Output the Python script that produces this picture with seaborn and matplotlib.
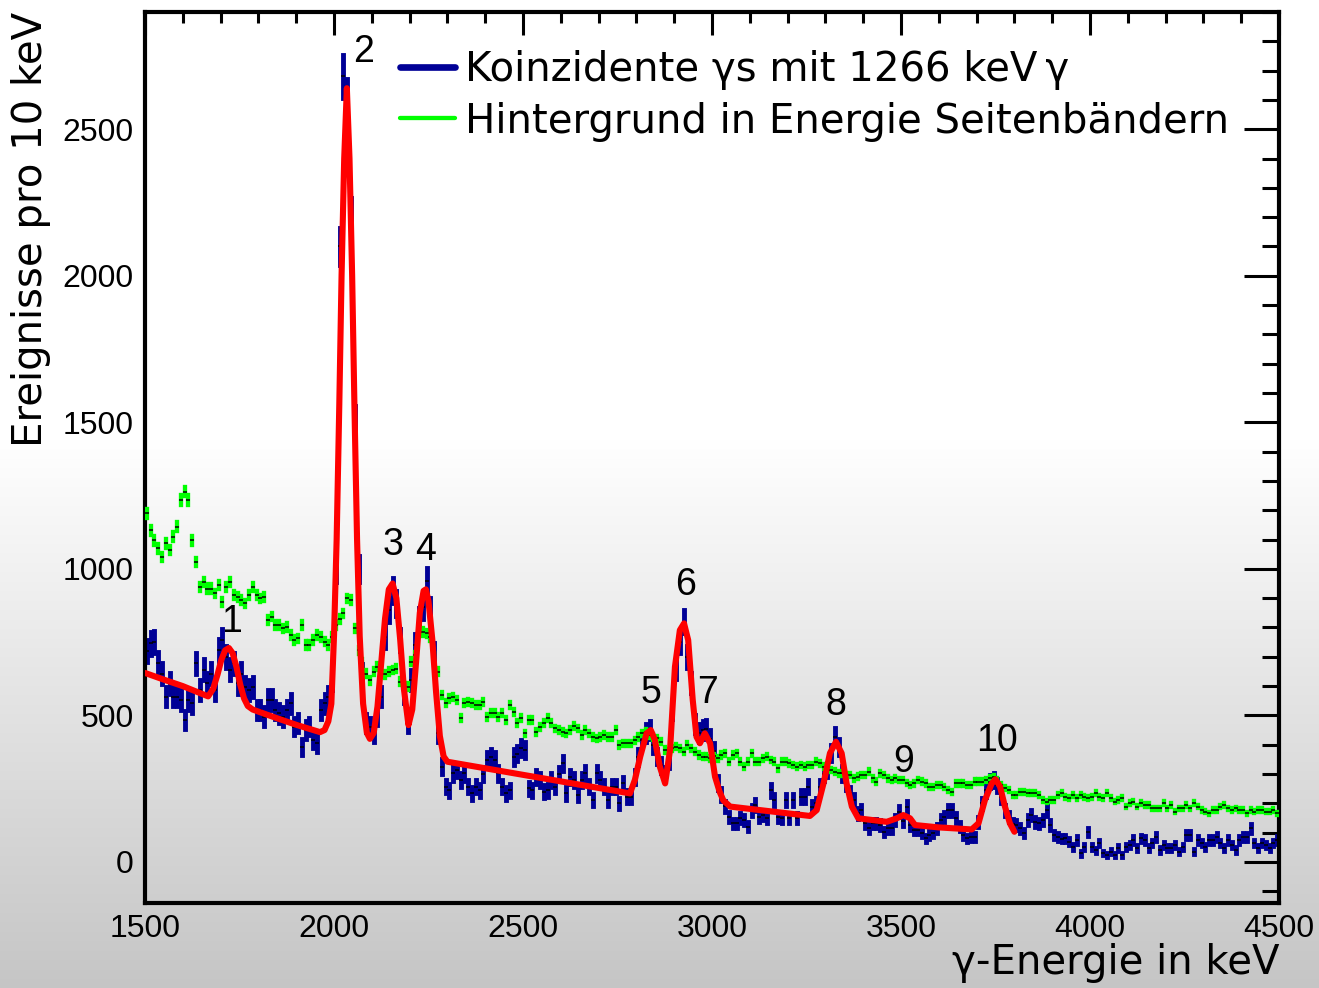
import numpy as np
import pandas as pd
import matplotlib
matplotlib.use("Agg")
import matplotlib.pyplot as plt
import seaborn as sns
from matplotlib.lines import Line2D
from matplotlib.ticker import MultipleLocator

# ---------------- data ----------------
bin_start = 1500
bin_width = 10

# coincident spectrum (counts per 10 keV), bins 1500..4490
blue_counts = [
    720, 746, 751, 680, 643, 564, 609, 564, 564, 553,   # 1500
    484, 553, 541, 678, 587, 655, 609, 643, 587, 723,   # 1600
    757, 700, 655, 678, 609, 643, 598, 587, 598, 518,   # 1700
    518, 496, 553, 553, 518, 507, 496, 518, 541, 462,   # 1800
    473, 393, 450, 462, 416, 405, 518, 541, 564, 620,   # 1900
    1000, 2100, 2680, 2600, 2200, 1500, 1000, 640, 475, 460,  # 2000
    440, 500, 564, 768, 860, 927, 882, 757, 575, 473,   # 2100
    620, 740, 825, 871, 960, 859, 711, 439, 325, 257,   # 2200
    245, 302, 313, 279, 302, 257, 234, 257, 245, 300,   # 2300
    348, 359, 348, 302, 257, 234, 245, 359, 370, 390,   # 2400
    382, 251, 245, 291, 280, 240, 245, 280, 257, 300,   # 2500
    336, 234, 291, 280, 228, 280, 302, 257, 211, 302,   # 2600
    280, 257, 211, 257, 257, 200, 268, 223, 223, 291,   # 2700
    359, 416, 440, 450, 400, 360, 330, 300, 345, 518,   # 2800
    660, 750, 820, 700, 610, 470, 440, 450, 455, 420,   # 2900
    380, 270, 230, 190, 154, 132, 132, 149, 143, 120,   # 3000
    177, 194, 154, 160, 149, 245, 211, 154, 149, 211,   # 3100
    149, 211, 149, 223, 223, 257, 189, 200, 257, 300,   # 3200
    314, 371, 427, 393, 302, 268, 234, 211, 166, 177,   # 3300
    132, 115, 132, 132, 126, 103, 115, 115, 143, 171,   # 3400
    140, 189, 126, 109, 109, 98, 81, 92, 100, 115,      # 3500
    143, 154, 177, 177, 149, 120, 92, 81, 86, 86,       # 3600
    137, 200, 245, 274, 280, 262, 223, 177, 154, 130,   # 3700
    126, 115, 98, 143, 160, 137, 132, 143, 177, 126,    # 3800
    92, 86, 80, 81, 69, 52, 75, 29, 52, 103,            # 3900
    52, 40, 64, 30, 24, 35, 24, 47, 24, 52,             # 4000
    58, 75, 47, 81, 75, 47, 64, 86, 41, 58,             # 4100
    47, 47, 58, 35, 52, 92, 92, 35, 75, 64,             # 4200
    52, 75, 75, 86, 64, 47, 75, 58, 41, 75,             # 4300
    86, 86, 115, 64, 47, 64, 58, 47, 64, 75,            # 4400
]

# background from energy side bands, bins 1500..4490
green_counts = [
    1189, 1132, 1098, 1070, 1041, 1087, 1064, 1110, 1144, 1235,  # 1500
    1263, 1235, 1098, 1024, 939, 956, 933, 933, 916, 945,        # 1600
    888, 939, 956, 911, 905, 894, 882, 911, 939, 911,            # 1700
    899, 905, 825, 837, 808, 808, 797, 802, 774, 757,            # 1800
    763, 808, 740, 740, 757, 774, 768, 751, 740, 768,            # 1900
    808, 830, 848, 899, 893, 797, 723, 680, 643, 620,            # 2000
    649, 666, 643, 640, 649, 655, 660, 615, 598, 598,            # 2100
    683, 706, 791, 785, 780, 768, 700, 649, 569, 541,            # 2200
    558, 564, 552, 490, 541, 547, 541, 535, 535, 547,            # 2300
    495, 507, 507, 495, 507, 484, 535, 512, 473, 490,            # 2400
    439, 484, 484, 444, 461, 473, 490, 473, 456, 450,            # 2500
    444, 439, 450, 464, 456, 433, 450, 439, 427, 422,            # 2600
    427, 433, 427, 427, 450, 399, 405, 405, 405, 415,            # 2700
    427, 439, 444, 433, 427, 422, 410, 382, 376, 388,            # 2800
    393, 388, 376, 399, 388, 376, 365, 359, 359, 354,            # 2900
    360, 354, 365, 371, 342, 365, 371, 342, 325, 342,            # 3000
    371, 342, 342, 354, 359, 348, 342, 319, 342, 342,            # 3100
    336, 331, 325, 331, 325, 331, 331, 342, 336, 325,            # 3200
    325, 314, 308, 302, 302, 297, 297, 285, 291, 297,            # 3300
    297, 308, 285, 274, 302, 297, 285, 280, 285, 280,            # 3400
    280, 270, 262, 268, 280, 274, 268, 257, 257, 262,            # 3500
    262, 257, 245, 240, 268, 268, 268, 262, 262, 274,            # 3600
    274, 274, 280, 285, 289, 280, 262, 251, 245, 228,            # 3700
    228, 240, 240, 234, 234, 234, 228, 211, 206, 211,            # 3800
    211, 228, 234, 223, 217, 228, 217, 228, 223, 217,            # 3900
    223, 234, 223, 217, 234, 217, 206, 211, 217, 189,            # 4000
    200, 206, 189, 200, 194, 194, 183, 183, 183, 200,            # 4100
    183, 194, 172, 183, 183, 194, 183, 200, 189, 177,            # 4200
    172, 166, 177, 177, 189, 194, 183, 177, 183, 177,            # 4300
    177, 166, 177, 172, 177, 177, 172, 172, 177, 166,            # 4400
]

# fitted curve, sampled (keV, counts)
fit_energy = [
    1500, 1550, 1600, 1667, 1680, 1692, 1702, 1712, 1722, 1732, 1742, 1752,
    1762, 1772, 1785, 1850, 1900, 1963, 1975, 1985, 1993, 2000, 2007, 2014,
    2020, 2027, 2034, 2041, 2048, 2054, 2061, 2068, 2077, 2087, 2095, 2105,
    2115, 2125, 2135, 2145, 2155, 2165, 2175, 2185, 2197, 2207, 2217, 2227,
    2237, 2243, 2250, 2260, 2270, 2280, 2290, 2300, 2783, 2796, 2810, 2827,
    2838, 2849, 2862, 2876, 2889, 2902, 2915, 2926, 2937, 2949, 2959, 2968,
    2981, 2995, 3008, 3020, 3030, 3048, 3127, 3259, 3277, 3295, 3312, 3328,
    3343, 3356, 3370, 3387, 3462, 3489, 3506, 3524, 3537, 3599, 3687, 3705,
    3722, 3740, 3750, 3762, 3775, 3788, 3800,
]
fit_counts = [
    645, 622, 600, 565, 590, 640, 690, 722, 730, 712, 665, 605,
    558, 532, 520, 490, 468, 443, 450, 480, 540, 770, 1100, 1560,
    2000, 2400, 2640, 2400, 2000, 1560, 1100, 770, 540, 440, 420, 440,
    530, 680, 830, 930, 950, 900, 760, 590, 467, 520, 680, 850,
    925, 930, 890, 760, 580, 430, 360, 342, 234, 280, 359, 439,
    450, 416, 325, 268, 382, 666, 791, 814, 757, 553, 427, 405,
    439, 405, 291, 240, 210, 189, 177, 157, 177, 268, 371, 410,
    371, 268, 189, 149, 137, 149, 160, 149, 126, 118, 111, 132,
    211, 268, 282, 257, 189, 132, 103,
]

peak_names = ["1", "2", "3", "4", "5", "6", "7", "8", "9", "10"]
peak_label_energy = [1730, 2079, 2156, 2241, 2839, 2929, 2989, 3328, 3508, 3754]
peak_label_counts = [818, 2763, 1081, 1064, 576, 945, 576, 535, 341, 413]

series_labels = ["Koinzidente \u03b3s mit 1266 keV\u2009\u03b3",
                 "Hintergrund in Energie Seitenb\u00e4ndern"]
x_ticks = [1500, 2000, 2500, 3000, 3500, 4000, 4500]
x_tick_labels = ["1500", "2000", "2500", "3000", "3500", "4000", "4500"]
y_ticks = [0, 500, 1000, 1500, 2000, 2500]
y_tick_labels = ["0", "500", "1000", "1500", "2000", "2500"]
x_title = "\u03b3-Energie in keV"
y_title = "Ereignisse pro 10 keV"

# ---------------- styling ----------------
BLUE = "#000096"
GREEN = "#00ff00"
RED = "#ff0000"

sns.set_theme(style="white")
plt.rcParams["font.family"] = ["DejaVu Sans"]
plt.rcParams["text.color"] = "black"
plt.rcParams["axes.labelcolor"] = "black"
plt.rcParams["xtick.color"] = "black"
plt.rcParams["ytick.color"] = "black"

W, H = 1319, 988
fig = plt.figure(figsize=(W / 100, H / 100), dpi=100)

# gradient page background
bg = fig.add_axes([0, 0, 1, 1], zorder=-10)
rows = np.arange(H)
t = np.clip((rows - 440) / (H - 440), 0, 1)
g = 1 - t * (58 / 255)
img = np.dstack([g, g, g]).reshape(H, 1, 3)
bg.imshow(img, aspect="auto", extent=[0, 1, 0, 1], interpolation="bilinear")
bg.axis("off")

ax = fig.add_axes([145 / W, 85 / H, 1134 / W, 891 / H])
ax.patch.set_alpha(0)

centers = bin_start + bin_width * np.arange(len(blue_counts)) + bin_width / 2
df = pd.DataFrame({"E": centers,
                   "blue": np.array(blue_counts, float),
                   "green": np.array(green_counts, float)})
blue_err = 1.4 * np.sqrt(df["blue"])
green_err = 0.45 * np.sqrt(df["green"])

ax.vlines(df["E"], df["blue"] - blue_err, df["blue"] + blue_err,
          colors=BLUE, linewidth=3.5, capstyle="projecting", zorder=2)
ax.vlines(df["E"], df["green"] - green_err, df["green"] + green_err,
          colors=GREEN, linewidth=3.1, capstyle="projecting", zorder=3)
for col in ["blue", "green"]:
    ax.plot(df["E"], df[col], ls="none", marker="_", ms=2.6, mew=1.1,
            color="black", zorder=3.5)

fit_df = pd.DataFrame({"E": fit_energy, "N": fit_counts})
sns.lineplot(data=fit_df, x="E", y="N", ax=ax, color=RED, linewidth=4.4,
             sort=False, estimator=None, zorder=5, legend=False)

for s, e, v in zip(peak_names, peak_label_energy, peak_label_counts):
    ax.text(e, v, s, ha="center", va="center", fontsize=27,
            family="Liberation Sans", color="black", zorder=6)

ax.set_xlim(1500, 4500)
ax.set_ylim(-140, 2900)
ax.set_xticks(x_ticks)
ax.set_xticklabels(x_tick_labels, fontsize=23, family="Liberation Sans")
ax.set_yticks(y_ticks)
ax.set_yticklabels(y_tick_labels, fontsize=23, family="Liberation Sans")
ax.xaxis.set_minor_locator(MultipleLocator(100))
ax.yaxis.set_minor_locator(MultipleLocator(100))
ax.tick_params(which="both", direction="in", top=True, right=True,
               color="black", labelcolor="black")
ax.tick_params(axis="x", which="major", length=16.5, width=2.2, pad=8)
ax.tick_params(axis="x", which="minor", length=8, width=2.2)
ax.tick_params(axis="y", which="major", length=25, width=2.2, pad=8)
ax.tick_params(axis="y", which="minor", length=12.5, width=2.2)
for sp in ax.spines.values():
    sp.set_linewidth(3)
    sp.set_color("black")
    sp.set_visible(True)

ax.set_xlabel(x_title, fontsize=29, loc="right", color="black")
ax.xaxis.set_label_coords(1.0, -0.045)
ax.set_ylabel(y_title, fontsize=29, loc="top", color="black")
ax.yaxis.set_label_coords(-0.083, 1.0)

handles = [Line2D([], [], color=BLUE, lw=4.8), Line2D([], [], color=GREEN, lw=3.1)]
leg = ax.legend(handles, series_labels, loc="upper left", bbox_to_anchor=(0.2249, 0.957),
                frameon=False, fontsize=29, handlelength=1.37, handletextpad=0.25,
                labelspacing=0.28, borderaxespad=0, borderpad=0)
for txt in leg.get_texts():
    txt.set_color("black")

fig.savefig("out.png", dpi=100)
